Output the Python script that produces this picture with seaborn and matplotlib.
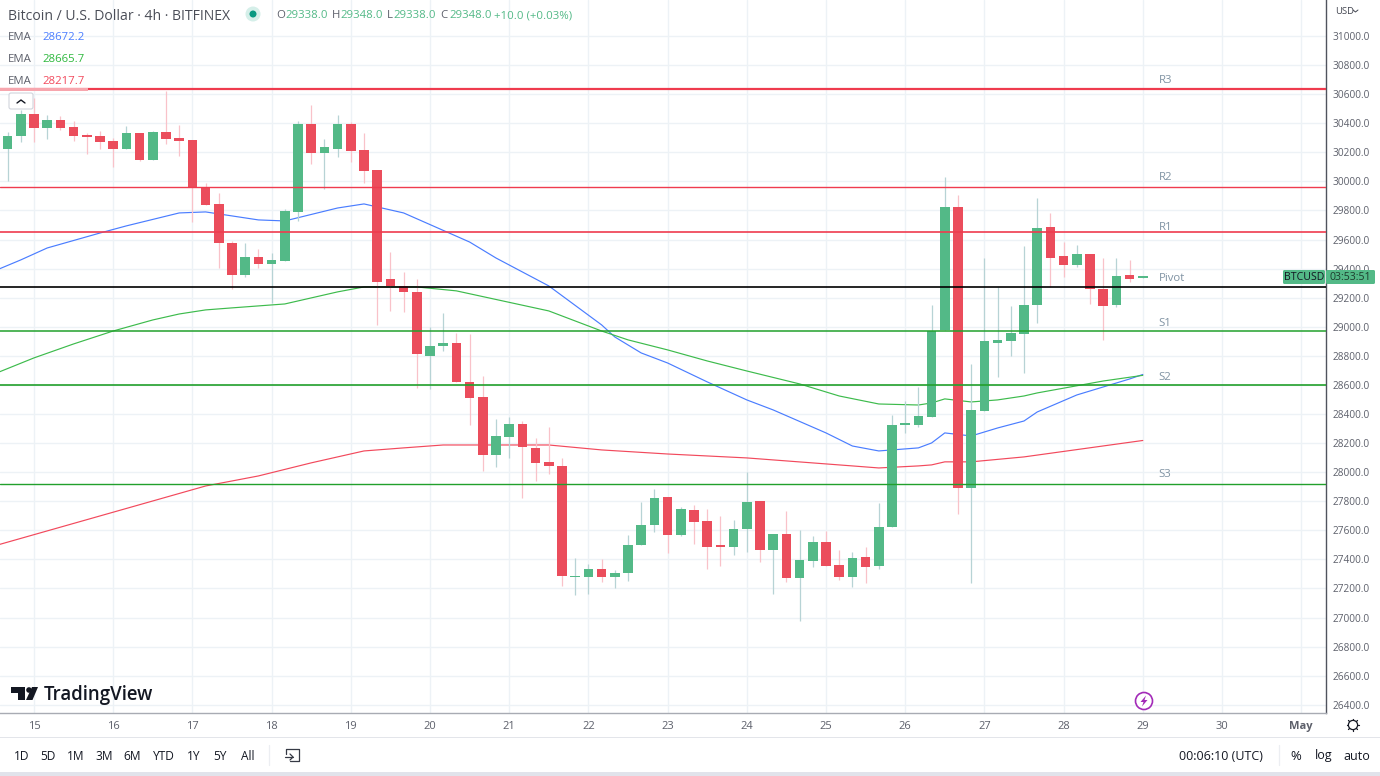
import matplotlib
matplotlib.use("Agg")
import matplotlib.pyplot as plt
import numpy as np
import pandas as pd
import seaborn as sns
from matplotlib.patches import Circle, FancyBboxPatch, Polygon, Rectangle

OPEN = [30223, 30313, 30464, 30368, 30423, 30374, 30319, 30313, 30278, 30223, 30333, 30147, 30340, 30299, 30285,
        29962, 29845, 29577, 29357, 29480, 29432, 29453, 29790, 30395, 30196, 30223, 30395, 30216, 30079, 29329,
        29281, 29240, 28799, 28868, 28889, 28621, 28518, 28119, 28242, 28332, 28167, 28070, 28043, 27279, 27279,
        27334, 27279, 27307, 27499, 27637, 27830, 27568, 27740, 27665, 27493, 27486, 27610, 27802, 27465, 27575,
        27272, 27389, 27520, 27362, 27279, 27417, 27355, 27623, 28325, 28325, 28380, 28978, 29824, 27892, 28421,
        28889, 28903, 28951, 29150, 29687, 29487, 29425, 29501, 29260, 29150, 29357, 29338]
HIGH = [30340, 30492, 30574, 30457, 30450, 30416, 30333, 30347, 30299, 30381, 30333, 30347, 30622, 30388, 30285,
        29989, 29921, 29590, 29577, 29535, 29508, 29810, 30416, 30526, 30292, 30457, 30409, 30333, 30079, 29515,
        29377, 29329, 28999, 29095, 28958, 28951, 28662, 28366, 28380, 28352, 28235, 28311, 28098, 27410, 27369,
        27403, 27328, 27568, 27795, 27885, 27830, 27761, 27775, 27747, 27699, 27671, 28002, 27802, 27575, 27733,
        27603, 27562, 27596, 27465, 27451, 27486, 27788, 28394, 28490, 28586, 29150, 30031, 29907, 28745, 29473,
        29274, 29143, 29556, 29886, 29783, 29583, 29563, 29501, 29473, 29473, 29460, 29348]
LOW = [30003, 30271, 30271, 30292, 30354, 30278, 30189, 30223, 30099, 30223, 30141, 30147, 30258, 30175, 29721,
       29838, 29405, 29260, 29343, 29405, 29164, 29453, 29728, 30120, 29948, 30168, 30134, 29989, 29013, 29109,
       29102, 28579, 28572, 28834, 28621, 28325, 28009, 28036, 28098, 27823, 27940, 27988, 27218, 27156, 27162,
       27245, 27204, 27252, 27499, 27589, 27444, 27562, 27506, 27334, 27355, 27431, 27451, 27383, 27162, 27245,
       26977, 27348, 27355, 27259, 27211, 27238, 27334, 27623, 28270, 28311, 28380, 28978, 27713, 27238, 28421,
       28655, 28799, 28683, 29026, 29274, 29343, 29412, 29157, 28909, 29136, 29308, 29338]
CLOSE = [30313, 30464, 30368, 30423, 30368, 30313, 30306, 30271, 30223, 30333, 30147, 30340, 30292, 30278, 29962,
         29838, 29577, 29357, 29480, 29432, 29460, 29797, 30395, 30196, 30237, 30395, 30209, 30072, 29308, 29281,
         29240, 28813, 28868, 28889, 28621, 28511, 28119, 28249, 28332, 28174, 28064, 28043, 27286, 27286, 27334,
         27279, 27307, 27499, 27637, 27823, 27568, 27747, 27658, 27486, 27486, 27610, 27795, 27465, 27575, 27272,
         27396, 27520, 27355, 27279, 27410, 27348, 27623, 28325, 28332, 28387, 28971, 29824, 27892, 28428, 28903,
         28909, 28958, 29150, 29680, 29473, 29425, 29501, 29260, 29143, 29350, 29329, 29348]
FIRST_BAR = -2

BLUE_BARS = [-3, -1, 1, 5, 7, 11, 13, 17, 19, 23, 25, 28, 33, 35, 39, 43, 44, 46, 48, 51, 54, 56, 60, 62, 64, 66,
             67, 68, 69, 71, 73, 75, 76, 79, 83, 84]
BLUE_EMA = [29384, 29460, 29542, 29645, 29694, 29783, 29790, 29735, 29728, 29817, 29845, 29783, 29583, 29473, 29281,
            29013, 28930, 28820, 28751, 28621, 28497, 28428, 28270, 28180, 28146, 28160, 28167, 28201, 28270, 28249,
            28304, 28352, 28414, 28531, 28641, 28672]
GREEN_BARS = [-3, 0, 3, 6, 9, 11, 13, 15, 19, 23, 25, 29, 32, 39, 43, 45, 48, 51, 54, 58, 61, 64, 67, 68, 69, 71,
              73, 75, 76, 81, 84]
GREEN_EMA = [28676, 28786, 28882, 28971, 29047, 29088, 29116, 29130, 29157, 29240, 29274, 29274, 29247, 29109, 28971,
             28910, 28841, 28765, 28696, 28607, 28524, 28469, 28462, 28476, 28504, 28483, 28497, 28524, 28545, 28627,
             28666]
RED_BARS = [-3, 1, 5, 9, 13, 17, 21, 25, 28, 31, 39, 43, 48, 54, 62, 64, 67, 68, 69, 71, 75, 84]
RED_EMA = [27493, 27596, 27699, 27802, 27905, 27974, 28064, 28146, 28167, 28187, 28187, 28153, 28125, 28098, 28043,
           28029, 28043, 28050, 28071, 28071, 28105, 28218]

LEVEL_NAMES = ["R3", "R2", "R1", "Pivot", "S1", "S2", "S3"]
LEVEL_PRICES = [30636, 29958, 29649, 29274, 28971, 28600, 27922]
LEVEL_LABEL_PRICES = [30695, 30027, 29683, 29329, 29026, 28648, 27981]
LEVEL_COLORS = ["#ef3b4e", "#ef3b4e", "#ef3b4e", "#000000", "#22a02c", "#22a02c", "#22a02c"]
LEVEL_WIDTHS = [1.6, 1.0, 1.2, 1.2, 1.1, 1.2, 1.0]

DAY_BARS = list(range(0, 102, 6))
DAY_LABELS = ["15", "16", "17", "18", "19", "20", "21", "22", "23", "24", "25", "26", "27", "28", "29", "30", "May"]
PRICE_TICKS = list(range(26400, 31001, 200))

W, H = 1380, 776
AX_W, AX_H = 1326, 713
UP = "#53b987"
DOWN = "#eb4d5c"
UP_WICK = "#b7d3d5"
DOWN_WICK = "#f9c2c9"
GRID = "#edf2f6"
TEXT = "#5d606b"
DARK = "#131722"
FONT = ["Open Sans", "DejaVu Sans"]


def ema_frame(bars, values, name):
    return pd.DataFrame({"bar": bars, "price": values, "ema": name})


def draw_candles(ax):
    df = pd.DataFrame({"open": OPEN, "high": HIGH, "low": LOW, "close": CLOSE})
    df["bar"] = np.arange(len(df)) + FIRST_BAR
    df["up"] = df["close"] >= df["open"]
    for up, group in df.groupby("up"):
        ax.vlines(group["bar"], group["low"], group["high"], color=UP_WICK if up else DOWN_WICK,
                  linewidth=0.9, zorder=3)
        bottom = group[["open", "close"]].min(axis=1)
        height = (group["close"] - group["open"]).abs().clip(lower=10)
        ax.bar(group["bar"], height, bottom=bottom, width=0.72, color=UP if up else DOWN, linewidth=0, zorder=4)


def draw_overlay(fig):
    ov = fig.add_axes([0, 0, 1, 1], zorder=10)
    ov.set_xlim(0, W)
    ov.set_ylim(H, 0)
    ov.axis("off")
    ov.patch.set_alpha(0)

    ov.text(8, 16, "Bitcoin / U.S. Dollar · 4h · BITFINEX", fontsize=10.1, color="#4a4d57", va="center")
    ov.add_patch(Circle((253, 14), 7.5, color="#d5efe9", lw=0))
    ov.add_patch(Circle((253, 14), 3.5, color="#089981", lw=0))
    for x, s in [(276, "O"), (332, "H"), (387, "L"), (440, "C")]:
        ov.text(x, 16, s, fontsize=8.2, color=TEXT, va="center")
    for x, s in [(285, "29338.0"), (340, "29348.0"), (393, "29338.0"), (449, "29348.0"), (494, "+10.0 (+0.03%)")]:
        ov.text(x, 16, s, fontsize=8.2, color=UP, va="center")
    for y, s, c in [(37, "28672.2", "#4a7dff"), (59, "28665.7", "#2db83d"), (81, "28217.7", "#f2495c")]:
        ov.text(8, y, "EMA", fontsize=8.2, color=TEXT, va="center")
        ov.text(42, y, s, fontsize=8.2, color=c, va="center")

    ov.add_patch(Rectangle((0, 87.5), 88, 3, color="#f7a6ae", lw=0, zorder=1))
    ov.add_patch(FancyBboxPatch((9, 93), 24, 16, boxstyle="round,pad=0,rounding_size=2", fc="white", ec="#d1d4dc", lw=0.8))
    ov.plot([17, 21, 25], [103, 100, 103], color=DARK, lw=1)

    # logo
    ov.add_patch(Polygon([(11, 687), (25, 687), (25, 700), (18, 700), (18, 693), (11, 693)], color=DARK, lw=0))
    ov.add_patch(Circle((29, 690), 2.8, color=DARK, lw=0))
    ov.add_patch(Polygon([(32, 687), (38, 687), (32.5, 700), (26, 700)], color=DARK, lw=0))
    ov.text(44, 695, "TradingView", fontsize=13.4, color=DARK, va="center", fontweight="semibold")

    # last price tags
    for x0, x1, s in [(1283, 1325, "BTCUSD"), (1326, 1375, "03:53:51")]:
        ov.add_patch(FancyBboxPatch((x0, 270), x1 - x0, 14, boxstyle="round,pad=0,rounding_size=1.5", fc=UP, ec="none"))
        ov.text((x0 + x1) / 2, 277.5, s, fontsize=7.6, color=DARK if x0 < 1300 else "#1d3b2d", ha="center", va="center")
    ov.text(1335, 12, "USD", fontsize=6.8, color="#434651", va="center")
    ov.plot([1353, 1355.5, 1358], [10, 12, 10], color="#434651", lw=0.7)

    # bolt icon
    ov.add_patch(Circle((1144, 701), 8.5, fc="white", ec="#a32bb8", lw=1.2))
    ov.add_patch(Polygon([(1146, 695.5), (1140.5, 702), (1143.5, 702), (1142, 706.5), (1147.5, 700), (1144.5, 700)],
                         color="#a32bb8", lw=0))

    # gear
    for a in np.deg2rad(np.arange(0, 360, 45)):
        ov.plot([1353 + 4.6 * np.cos(a), 1353 + 6.4 * np.cos(a)],
                [725 + 4.6 * np.sin(a), 725 + 6.4 * np.sin(a)], color=DARK, lw=0.9)
    ov.add_patch(Circle((1353, 725), 4.6, fc="white", ec=DARK, lw=0.9, zorder=3))

    # toolbar
    ov.add_patch(Rectangle((0, 737), W, 1, color="#e3e5ea", lw=0))
    ov.add_patch(Rectangle((0, 772), W, 4, color="#e1e3eb", lw=0))
    for x, s in [(22, "1D"), (48, "5D"), (76, "1M"), (104, "3M"), (132, "6M"), (164, "YTD"), (194, "1Y"), (220, "5Y"), (248, "All")]:
        ov.text(x, 756, s, fontsize=8.6, color=DARK, ha="center", va="center")
    ov.plot([269, 269], [745, 765], color="#eceef2", lw=0.9)
    ov.plot([1279, 1279], [745, 765], color="#eceef2", lw=0.9)
    ov.plot([286, 286, 299, 299, 290], [754, 749, 749, 761, 761], color="#363a45", lw=0.9)
    ov.plot([285, 293], [757, 757], color="#363a45", lw=0.9)
    ov.plot([290, 293, 290], [754, 757, 760], color="#363a45", lw=0.9)
    ov.text(1221, 756, "00:06:10 (UTC)", fontsize=9, color=DARK, ha="center", va="center")
    ov.text(1296, 756, "%", fontsize=9.4, color=DARK, ha="center", va="center")
    ov.text(1324, 756, "log", fontsize=9, color=DARK, ha="center", va="center")
    ov.text(1357, 756, "auto", fontsize=9, color=DARK, ha="center", va="center")


def main():
    sns.set_theme(style="white")
    plt.rcParams["font.family"] = FONT

    fig = plt.figure(figsize=(W / 100, H / 100), dpi=100, facecolor="white")
    ax = fig.add_axes([0, 1 - AX_H / H, AX_W / W, AX_H / H])

    for spine in ["top", "left"]:
        ax.spines[spine].set_visible(False)
    ax.spines["right"].set_color("#50535e")
    ax.spines["right"].set_linewidth(1.0)
    ax.spines["bottom"].set_color("#a8abb3")
    ax.spines["bottom"].set_linewidth(1.0)

    ax.set_axisbelow(True)
    ax.grid(True, color=GRID, linewidth=1.0)

    emas = [
        (ema_frame(BLUE_BARS, BLUE_EMA, "blue"), "#4a7dff"),
        (ema_frame(GREEN_BARS, GREEN_EMA, "green"), "#3dbb4c"),
        (ema_frame(RED_BARS, RED_EMA, "red"), "#f2495c"),
    ]
    for frame, color in emas:
        sns.lineplot(data=frame, x="bar", y="price", color=color, linewidth=0.85, ax=ax, zorder=2, legend=False)

    draw_candles(ax)

    for name, price, label_price, color, width in zip(LEVEL_NAMES, LEVEL_PRICES, LEVEL_LABEL_PRICES, LEVEL_COLORS, LEVEL_WIDTHS):
        ax.axhline(price, color=color, linewidth=width, zorder=5)
        ax.text(85.2, label_price, name, fontsize=8.2, color="#8093a3", va="center", zorder=6)

    ax.set_xlim((0 - 34) / 13.2, (AX_W - 34) / 13.2)
    ax.set_ylim(31247.6 - 6.878 * AX_H, 31247.6)
    ax.set_xlabel("")
    ax.set_ylabel("")

    ax.set_xticks(DAY_BARS)
    ax.set_xticklabels(DAY_LABELS, fontsize=8, color=TEXT)
    ax.get_xticklabels()[-1].set_fontweight("bold")
    ax.tick_params(axis="x", length=0, pad=5.5)
    ax.yaxis.tick_right()
    ax.set_yticks(PRICE_TICKS)
    ax.set_yticklabels([f"{p:.1f}" for p in PRICE_TICKS], fontsize=7.3, color=TEXT)
    ax.tick_params(axis="y", length=0, pad=5)

    draw_overlay(fig)
    fig.savefig("out.png", dpi=100)
    plt.close(fig)


if __name__ == "__main__":
    main()
